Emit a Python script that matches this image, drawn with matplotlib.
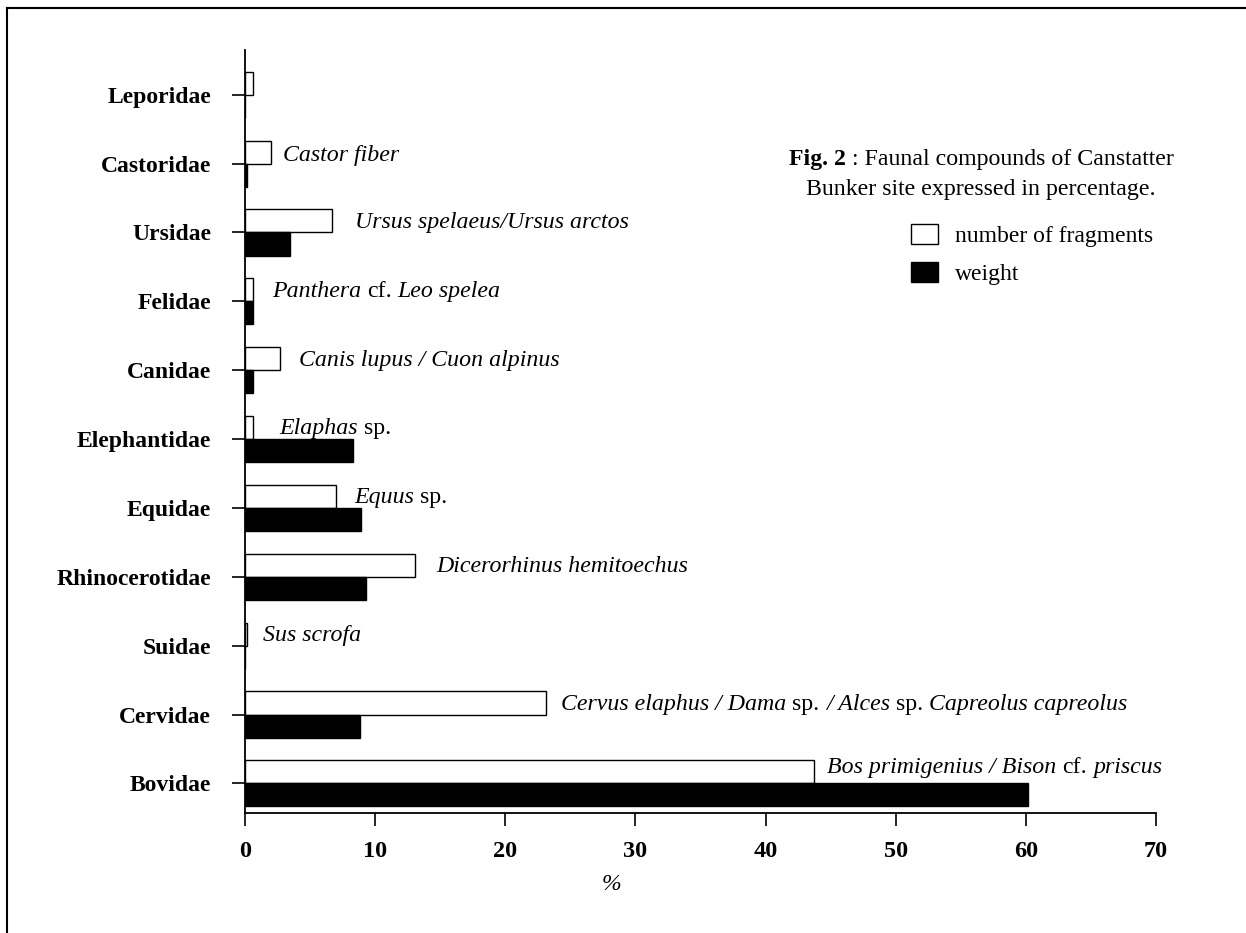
import matplotlib
matplotlib.use("Agg")
import matplotlib.pyplot as plt
from matplotlib.patches import Patch
from matplotlib.lines import Line2D

# ---------------- data ----------------
families = ['Leporidae', 'Castoridae', 'Ursidae', 'Felidae', 'Canidae',
            'Elephantidae', 'Equidae', 'Rhinocerotidae', 'Suidae',
            'Cervidae', 'Bovidae']
fragments = [0.65, 2.0, 6.7, 0.65, 2.7, 0.65, 7.0, 13.1, 0.15, 23.1, 43.7]
weight = [0.0, 0.15, 3.45, 0.65, 0.65, 8.3, 8.9, 9.3, 0.0, 8.85, 60.2]
xticks = [0, 10, 20, 30, 40, 50, 60, 70]

# species labels: list of (text, italic?) segments
species = [
    None,
    [("Castor fiber", True)],
    [("Ursus spelaeus/Ursus arctos", True)],
    [("Panthera", True), ("cf.", False), ("Leo spelea", True)],
    [("Canis lupus / Cuon alpinus", True)],
    [("Elaphas", True), ("sp.", False)],
    [("Equus", True), ("sp.", False)],
    [("Dicerorhinus hemitoechus", True)],
    [("Sus scrofa", True)],
    [("Cervus elaphus / Dama", True), ("sp.", False), ("/ Alces", True),
     ("sp.", False), ("Capreolus capreolus", True)],
    [("Bos primigenius / Bison", True), ("cf.", False), ("priscus", True)],
]
# label positions (x in data units, y offset from category centre)
species_x = [0, 2.92, 8.45, 2.05, 4.15, 2.64, 8.37, 14.72, 1.41, 24.3, 44.75]
species_dy = [0, 0.12, 0.14, 0.15, 0.14, 0.15, 0.15, 0.15, 0.15, 0.14, 0.23]

SERIF = ['Liberation Serif', 'DejaVu Serif']
plt.rcParams['font.family'] = SERIF

W, H = 1246, 933
fig = plt.figure(figsize=(W / 100, H / 100), dpi=100)
ax = fig.add_axes([245 / W, 1 - 813 / H, (1156 - 245) / W, (813 - 50) / H])

n = len(families)
ypos = [n - 1 - i for i in range(n)]
bh = 0.335

ax.barh([y + bh / 2 for y in ypos], fragments, height=bh, color='white',
        edgecolor='black', linewidth=1.0, label='number of fragments')
ax.barh([y - bh / 2 for y in ypos], weight, height=bh, color='black',
        edgecolor='black', linewidth=1.0, label='weight')

ax.set_xlim(0, 70)
ax.set_ylim(-0.43, n - 1 + 0.65)
ax.set_xticks(xticks)
ax.set_xticklabels([str(t) for t in xticks], fontsize=17.5, fontweight='bold')
ax.set_yticks(ypos)
ax.set_yticklabels(families, fontsize=17, fontweight='bold')
ax.tick_params(axis='x', direction='out', length=9.5, width=1.2, pad=11)
ax.tick_params(axis='y', direction='out', length=9.5, width=1.2, pad=15)
for s in ['top', 'right']:
    ax.spines[s].set_visible(False)
for s in ['left', 'bottom']:
    ax.spines[s].set_linewidth(1.3)

# species annotations (mixed italic / roman segments)
FS = 17.2
gap_pt = 0.25 * FS
for i, segs in enumerate(species):
    if not segs:
        continue
    y = ypos[i] + species_dy[i]
    prev = None
    for txt, it in segs:
        style = 'italic' if it else 'normal'
        if prev is None:
            prev = ax.text(species_x[i], y, txt, fontsize=FS, fontstyle=style,
                           va='center', ha='left')
        else:
            prev = ax.annotate(txt, xy=(1, 0), xycoords=prev,
                               xytext=(gap_pt, 0), textcoords='offset points',
                               fontsize=FS, fontstyle=style,
                               va='bottom', ha='left')

# title block
fig.canvas.draw()
r = fig.canvas.get_renderer()
cx = 981 / W
TFS = 17.2
t1a = fig.text(0, 1 - 160 / H, "Fig. 2", fontsize=TFS, fontweight='bold',
               va='center', ha='left')
t1b = fig.text(0, 1 - 160 / H, " : Faunal compounds of Canstatter",
               fontsize=TFS, va='center', ha='left')
wa = t1a.get_window_extent(r).width
wb = t1b.get_window_extent(r).width
start = cx * W - (wa + wb) / 2
t1a.set_x(start / W)
t1b.set_x((start + wa) / W)
fig.text(cx, 1 - 189 / H, "Bunker site expressed in percentage.",
         fontsize=TFS, va='center', ha='center')

# legend
handles = [Patch(facecolor='white', edgecolor='black', linewidth=1.0),
           Patch(facecolor='black', edgecolor='black', linewidth=1.0)]
fig.legend(handles, ['number of fragments', 'weight'],
           loc='upper left', bbox_to_anchor=(911 / W, 1 - 224 / H),
           frameon=False, fontsize=17, handlelength=1.15, handleheight=0.93,
           handletextpad=0.72, labelspacing=0.62, borderpad=0,
           borderaxespad=0)

# x label
fig.text(611 / W, 1 - 884 / H, "%", fontsize=17, fontstyle='italic',
         va='center', ha='center')

# page frame (top and left edges)
fig.add_artist(Line2D([7 / W, 7 / W], [0, 1 - 8 / H], color='black',
                      linewidth=1.5, transform=fig.transFigure))
fig.add_artist(Line2D([7 / W, 1], [1 - 8 / H, 1 - 8 / H], color='black',
                      linewidth=1.5, transform=fig.transFigure))

fig.savefig("out.png", dpi=100, facecolor='white')
